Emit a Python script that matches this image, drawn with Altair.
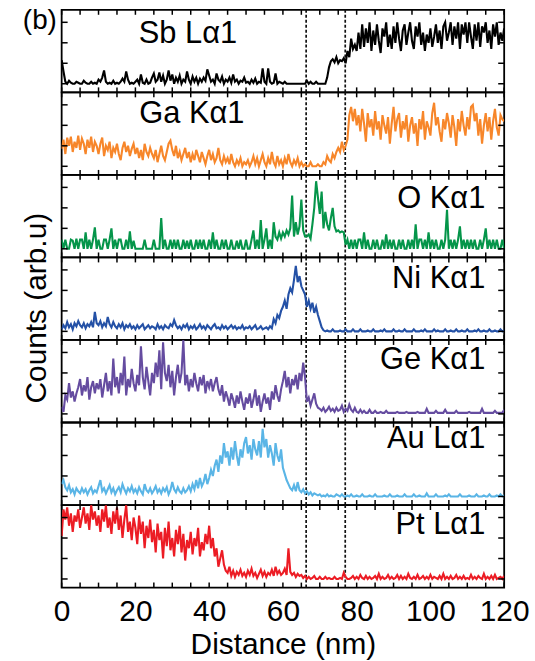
import altair as alt
import pandas as pd

FONT = "Liberation Sans"
STEP_NM = 0.5
X_LABELS = [0, 20, 40, 60, 80, 100, 120]
X_TICKS = list(range(0, 121, 5))
Y_TICKS = [0, 100, 200, 300]
DASH_NM = [66.3, 76.9]

SB = [115, 60, 10, 0, 15, 5, 0, 0, 10, 5,
      0, 0, 15, 5, 0, 0, 10, 0, 5, 0,
      20, 10, 30, 65, 10, 0, 5, 0, 15, 0,
      5, 0, 10, 25, 10, 60, 20, 0, 5, 0,
      10, 20, 0, 45, 5, 0, 20, 0, 5, 30,
      50, 10, 20, 55, 10, 40, 0, 20, 65, 15,
      45, 0, 30, 10, 40, 0, 20, 10, 60, 20,
      0, 35, 10, 30, 0, 25, 10, 30, 15, 70,
      40, 10, 20, 0, 50, 20, 10, 35, 0, 20,
      10, 30, 5, 45, 10, 20, 0, 15, 10, 30,
      5, 10, 0, 20, 5, 25, 0, 10, 5, 75,
      10, 0, 75, 10, 0, 5, 50, 0, 10, 5,
      0, 10, 0, 0, 0, 0, 0, 0, 0, 0,
      0, 0, 0, 15, 0, 10, 0, 0, 10, 0,
      0, 0, 0, 0, 30, 80, 110, 120, 105, 130,
      100, 115, 110, 125, 100, 160, 130, 220, 170, 190,
      160, 250, 170, 290, 180, 270, 200, 300, 160, 260,
      190, 290, 210, 150, 270, 230, 300, 180, 240, 170,
      280, 200, 300, 220, 160, 260, 290, 190, 250, 300,
      210, 170, 280, 230, 300, 190, 250, 160, 240, 200,
      270, 180, 230, 290, 200, 260, 170, 280, 300, 210,
      250, 300, 190, 280, 220, 300, 170, 290, 240, 300,
      200, 300, 230, 170, 290, 210, 300, 180, 280, 250,
      300, 200, 260, 170, 290, 230, 300, 190, 250, 210,
      270]

GA = [85, 130, 60, 140, 100, 145, 70, 120, 90, 150,
      80, 135, 110, 60, 130, 90, 145, 70, 120, 100,
      60, 110, 140, 50, 100, 80, 120, 40, 90, 70,
      110, 60, 30, 90, 120, 70, 100, 50, 85, 110,
      60, 90, 40, 80, 30, 110, 70, 50, 90, 60,
      40, 80, 20, 60, 100, 50, 30, 70, 110, 125,
      80, 50, 100, 40, 70, 30, 60, 90, 40, 70,
      20, 60, 30, 80, 50, 20, 70, 40, 10, 50,
      80, 30, 60, 20, 40, 90, 30, 10, 50, 20,
      40, 10, 60, 20, 0, 30, 10, 40, 0, 20,
      10, 30, 0, 20, 50, 10, 40, 0, 30, 60,
      20, 0, 40, 10, 70, 20, 0, 50, 10, 30,
      0, 40, 10, 60, 20, 0, 30, 10, 40, 0,
      20, 0, 10, 0, 0, 20, 0, 0, 0, 10,
      0, 0, 20, 10, 50, 30, 20, 60, 40, 70,
      90, 70, 120, 80, 100, 130, 250, 290, 220, 280,
      200, 250, 170, 280, 210, 120, 260, 190, 230, 150,
      270, 180, 220, 130, 250, 200, 160, 240, 110, 210,
      290, 170, 230, 260, 140, 220, 180, 250, 120, 200,
      240, 160, 210, 100, 230, 180, 270, 130, 220, 190,
      150, 260, 310, 200, 240, 170, 120, 230, 180, 260,
      210, 140, 250, 190, 100, 230, 170, 270, 200, 150,
      240, 180, 290, 300, 220, 260, 150, 230, 110, 200,
      260, 170, 240, 130, 220, 280, 190, 150, 250, 230,
      220]

O = [45, 0, 45, 0, 0, 45, 40, 0, 50, 0,
     45, 45, 0, 80, 0, 45, 0, 45, 105, 0,
     45, 0, 0, 45, 45, 0, 45, 100, 0, 45,
     0, 45, 45, 0, 0, 45, 0, 85, 0, 40,
     0, 0, 0, 0, 0, 45, 0, 0, 0, 0,
     45, 0, 0, 0, 150, 0, 45, 0, 0, 45,
     0, 45, 0, 45, 0, 0, 45, 0, 40, 0,
     45, 0, 0, 45, 0, 45, 0, 45, 0, 0,
     45, 0, 80, 0, 45, 0, 0, 45, 0, 45,
     0, 0, 45, 0, 0, 40, 0, 45, 0, 0,
     45, 0, 0, 45, 90, 0, 45, 0, 140, 0,
     45, 100, 0, 45, 0, 130, 60, 45, 80, 50,
     80, 60, 90, 70, 100, 260, 60, 130, 70, 110,
     240, 90, 60, 60, 70, 50, 120, 200, 330, 250,
     170, 280, 100, 180, 120, 90, 150, 200, 110, 85,
     90, 80, 85, 80, 20, 45, 0, 45, 0, 45,
     0, 45, 45, 0, 80, 0, 45, 0, 0, 45,
     0, 45, 0, 0, 45, 0, 70, 0, 45, 0,
     45, 0, 0, 45, 0, 45, 0, 0, 45, 0,
     45, 0, 120, 0, 45, 45, 0, 45, 0, 80,
     0, 45, 0, 45, 0, 0, 45, 0, 45, 190,
     0, 45, 0, 45, 0, 45, 110, 0, 45, 0,
     45, 0, 45, 0, 45, 0, 0, 45, 0, 45,
     100, 0, 45, 0, 45, 0, 45, 0, 0, 45,
     0]

NI = [10, 30, 15, 45, 20, 35, 10, 40, 25, 50,
      30, 20, 40, 15, 35, 25, 45, 20, 95, 40,
      30, 50, 20, 40, 25, 70, 35, 20, 45, 25,
      15, 35, 20, 40, 10, 30, 20, 35, 15, 25,
      10, 30, 15, 25, 35, 10, 20, 30, 15, 25,
      20, 10, 35, 15, 25, 10, 30, 20, 15, 35,
      25, 55, 30, 15, 25, 10, 30, 20, 35, 10,
      25, 15, 30, 10, 20, 35, 15, 25, 10, 30,
      20, 10, 25, 35, 15, 20, 10, 30, 15, 25,
      10, 20, 30, 15, 25, 10, 20, 15, 30, 10,
      20, 15, 25, 10, 20, 30, 10, 15, 25, 10,
      15, 20, 10, 25, 15, 60, 40, 80, 65, 100,
      120, 150, 110, 180, 210, 190, 250, 320, 240, 270,
      220, 200, 180, 120, 150, 110, 140, 90, 120, 80,
      50, 20, 5, 0, 5, 0, 0, 10, 0, 0,
      0, 5, 0, 0, 10, 0, 0, 0, 10, 0,
      0, 0, 10, 0, 0, 0, 5, 0, 0, 10,
      0, 0, 0, 5, 0, 10, 0, 0, 0, 0,
      10, 0, 0, 5, 0, 0, 10, 0, 0, 0,
      0, 10, 0, 0, 0, 5, 0, 10, 0, 0,
      0, 0, 10, 0, 5, 0, 0, 0, 10, 0,
      0, 5, 0, 0, 10, 0, 0, 5, 0, 0,
      10, 0, 0, 0, 5, 0, 10, 0, 0, 5,
      0, 0, 10, 0, 0, 5, 0, 0, 10, 0,
      5]

GE = [35, 10, 90, 70, 150, 80, 110, 60, 100, 130,
      170, 90, 140, 110, 180, 70, 130, 160, 100, 150,
      120, 170, 80, 140, 200, 110, 160, 90, 270, 130,
      180, 100, 200, 140, 280, 90, 170, 130, 220, 150,
      110, 190, 140, 330, 180, 120, 230, 160, 90, 200,
      150, 250, 180, 310, 120, 350, 200, 160, 240, 130,
      210, 90, 180, 240, 150, 200, 360, 140, 190, 110,
      170, 130, 200, 150, 110, 180, 140, 190, 100, 160,
      130, 170, 110, 150, 180, 120, 90, 140, 60, 110,
      80, 40, 100, 70, 30, 90, 50, 110, 60, 20,
      80, 50, 100, 30, 70, 120, 40, 90, 10, 60,
      100, 50, 80, 20, 110, 70, 140, 90, 60, 120,
      160, 210, 130, 180, 100, 170, 140, 190, 120, 200,
      160, 250, 180, 60, 80, 40, 70, 100, 50, 30,
      25, 15, 30, 10, 20, 35, 15, 25, 10, 30,
      15, 20, 40, 10, 25, 15, 45, 20, 10, 30,
      10, 5, 20, 5, 15, 5, 5, 20, 5, 5,
      15, 5, 5, 10, 5, 5, 15, 5, 5, 5,
      5, 5, 10, 5, 5, 5, 5, 10, 5, 5,
      5, 5, 5, 10, 5, 5, 5, 5, 25, 5,
      5, 5, 5, 15, 5, 5, 5, 5, 20, 5,
      5, 5, 5, 5, 15, 5, 5, 5, 5, 5,
      5, 10, 5, 5, 5, 5, 5, 5, 25, 5,
      5, 5, 5, 5, 5, 15, 5, 5, 5, 5,
      20]

AU = [60, 80, 45, 30, 55, 20, 35, 10, 40, 25,
      15, 40, 20, 35, 10, 30, 45, 15, 30, 20,
      50, 80, 25, 40, 15, 35, 55, 20, 40, 10,
      30, 45, 20, 60, 35, 15, 40, 25, 50, 20,
      35, 15, 45, 25, 10, 60, 30, 20, 40, 15,
      30, 50, 20, 35, 15, 40, 25, 45, 10, 30,
      70, 35, 20, 45, 25, 15, 40, 20, 30, 50,
      25, 60, 35, 80, 40, 90, 50, 70, 110, 60,
      90, 130, 100, 150, 180, 120, 200, 160, 260, 190,
      220, 150, 240, 180, 270, 200, 150, 230, 190, 260,
      290, 210, 250, 180, 280, 230, 200, 270, 190, 330,
      240, 280, 190, 250, 210, 150, 260, 200, 170, 230,
      140, 110, 80, 60, 40, 30, 55, 25, 70, 30,
      20, 35, 15, 25, 10, 20, 5, 15, 10, 5,
      10, 0, 5, 0, 10, 0, 5, 0, 0, 10,
      5, 0, 10, 0, 0, 5, 0, 10, 0, 0,
      5, 0, 0, 10, 0, 0, 0, 5, 0, 0,
      10, 0, 0, 0, 0, 5, 0, 0, 10, 0,
      0, 0, 5, 0, 0, 0, 10, 0, 0, 0,
      0, 10, 0, 0, 5, 0, 0, 0, 15, 0,
      0, 0, 0, 10, 0, 0, 0, 0, 5, 0,
      10, 0, 0, 0, 0, 0, 10, 0, 0, 0,
      0, 5, 0, 0, 0, 10, 0, 0, 0, 5,
      0, 0, 10, 0, 0, 0, 5, 0, 10, 0,
      5]

PT = [210, 340, 290, 350, 260, 320, 230, 310, 280, 340,
      250, 300, 350, 270, 320, 240, 360, 290, 330, 260,
      310, 230, 340, 280, 360, 250, 300, 220, 330, 270,
      350, 240, 310, 200, 290, 360, 230, 280, 190, 300,
      250, 170, 310, 220, 280, 150, 260, 200, 290, 180,
      240, 130, 270, 190, 230, 100, 250, 160, 280, 140,
      200, 110, 240, 170, 260, 130, 220, 90, 190, 150,
      230, 120, 200, 160, 250, 110, 180, 140, 220, 170,
      260, 150, 200, 110, 150, 60, 100, 140, 70, 40,
      30, 60, 15, 40, 10, 35, 20, 45, 15, 30,
      10, 40, 20, 50, 15, 30, 5, 25, 45, 15,
      35, 10, 30, 20, 45, 15, 60, 25, 40, 20,
      30, 50, 20, 150, 35, 20, 30, 10, 25, 15,
      20, 5, 15, 0, 10, 0, 5, 15, 0, 0,
      10, 0, 0, 10, 0, 5, 0, 0, 10, 0,
      0, 5, 0, 30, 10, 0, 0, 5, 15, 0,
      10, 0, 20, 5, 0, 15, 0, 10, 0, 5,
      15, 0, 25, 0, 10, 0, 5, 20, 0, 10,
      0, 5, 20, 0, 15, 0, 10, 0, 25, 5,
      0, 10, 0, 20, 0, 5, 15, 0, 10, 0,
      20, 0, 10, 5, 0, 15, 0, 25, 0, 10,
      0, 15, 0, 5, 20, 0, 10, 0, 15, 0,
      5, 0, 20, 0, 10, 0, 15, 5, 0, 25,
      0, 10, 0, 15, 0, 20, 0, 5, 10, 0,
      15]

ELEMENTS = ["Sb Lα1", "Ga Kα1", "O Kα1", "Ni Kα1", "Ge Kα1", "Au Lα1", "Pt Lα1"]
COLORS = ["#000000", "#f7862a", "#05954a", "#2451a6", "#654ca0", "#5ab5e6", "#ec1c24"]
SERIES = [SB, GA, O, NI, GE, AU, PT]

W, H = 445, 83
X_DOM = [0, 120]
Y_DOM = [-42, 361]

# label placement (pixels inside each panel): x, align, baseline y
LABEL_POS = [(127, "center", 33), (131, "center", 31), (426, "right", 33),
             (426, "right", 31), (426, "right", 29), (426, "right", 26),
             (426, "right", 29)]

xscale = alt.Scale(domain=X_DOM, nice=False, zero=False)
yscale = alt.Scale(domain=Y_DOM, nice=False, zero=False)

tick_x_df = pd.DataFrame({"d": X_TICKS})
tick_y_df = pd.DataFrame({"v": Y_TICKS})
dash_df = pd.DataFrame({"d": DASH_NM})


def make_panel(i):
    vals = SERIES[i]
    df = pd.DataFrame({"d": [k * STEP_NM for k in range(len(vals))], "v": vals})
    last = i == len(SERIES) - 1
    if last:
        xaxis = alt.Axis(values=X_LABELS, title="Distance (nm)", ticks=False,
                         domain=False, grid=False, labelFontSize=30,
                         titleFontSize=30, labelFont=FONT, titleFont=FONT,
                         labelColor="black", titleColor="black",
                         titleFontWeight="normal", labelPadding=9,
                         titlePadding=3, labelFlush=False, labelOverlap=False,
                         format="d")
    else:
        xaxis = None
    X = alt.X("d:Q", scale=xscale, axis=xaxis)
    Y = alt.Y("v:Q", scale=yscale, axis=None)

    line = alt.Chart(df).mark_line(color=COLORS[i], strokeWidth=2.1,
                                   clip=True).encode(x=X, y=Y)
    dashes = alt.Chart(dash_df).mark_rule(color="#111111", strokeWidth=1.7,
                                          strokeDash=[3, 2]).encode(x=X)
    top_t = alt.Chart(tick_x_df).mark_rule(color="black", strokeWidth=1.5).encode(
        x=X, y=alt.value(0), y2=alt.value(5))
    bot_t = alt.Chart(tick_x_df).mark_rule(color="black", strokeWidth=1.5).encode(
        x=X, y=alt.value(H), y2=alt.value(H - 5))
    left_t = alt.Chart(tick_y_df).mark_rule(color="black", strokeWidth=1.5).encode(
        y=Y, x=alt.value(0), x2=alt.value(6))
    right_t = alt.Chart(tick_y_df).mark_rule(color="black", strokeWidth=1.5).encode(
        y=Y, x=alt.value(W - 6), x2=alt.value(W))

    lx, lalign, ly = LABEL_POS[i]
    label = alt.Chart(pd.DataFrame({"t": [ELEMENTS[i]]})).mark_text(
        font=FONT, fontSize=31, align=lalign, baseline="alphabetic",
        color="black").encode(text="t:N", x=alt.value(lx), y=alt.value(ly))

    layers = [dashes, line, top_t, bot_t, left_t, right_t, label]
    if i == 0:
        tag = alt.Chart(pd.DataFrame({"t": ["(b)"]})).mark_text(
            font=FONT, fontSize=28, align="left", baseline="alphabetic",
            color="black").encode(text="t:N", x=alt.value(-39), y=alt.value(19))
        layers.append(tag)
    if i == 3:
        ytitle = alt.Chart(pd.DataFrame({"t": ["Counts (arb.u)"]})).mark_text(
            font=FONT, fontSize=30, align="center", baseline="middle",
            angle=270, color="black").encode(text="t:N", x=alt.value(-25),
                                              y=alt.value(51))
        layers.append(ytitle)
    return alt.layer(*layers).properties(width=W, height=H)


chart = alt.vconcat(*[make_panel(i) for i in range(len(SERIES))],
                    spacing=0, bounds="flush").properties(
    padding={"left": 21, "top": 4, "right": 5, "bottom": 5},
    background="white",
).configure_view(stroke="black", strokeWidth=1.8)

chart.save("out.html", embed_options={"renderer": "svg", "actions": False})
